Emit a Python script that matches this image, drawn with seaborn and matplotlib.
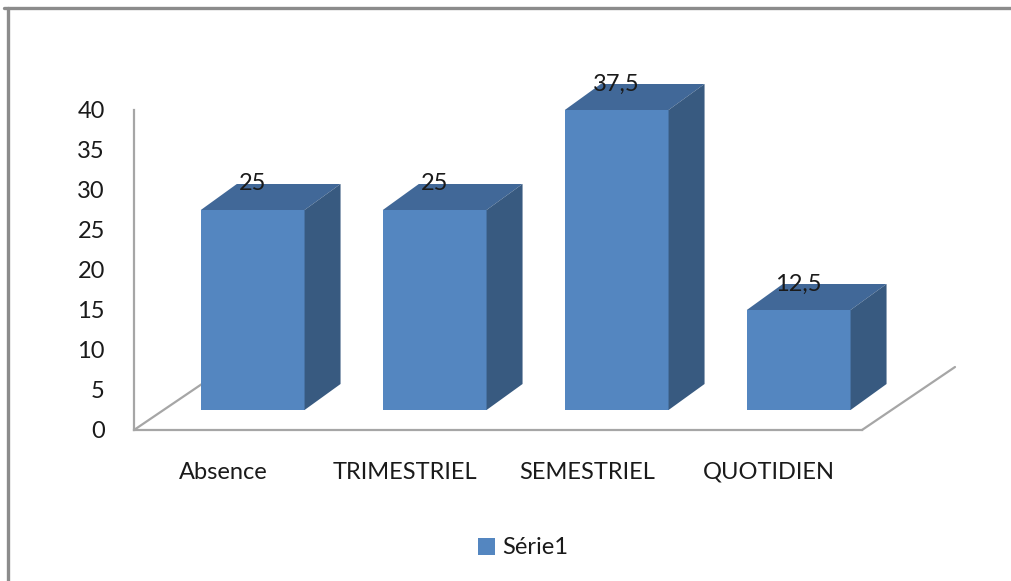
import matplotlib
matplotlib.use("Agg")
import numpy as np
import pandas as pd
import seaborn as sns
import matplotlib.pyplot as plt
from matplotlib.patches import Polygon, Patch
from matplotlib.lines import Line2D
from matplotlib.transforms import ScaledTranslation, IdentityTransform

# --- data -------------------------------------------------------------
categories = ["Absence", "TRIMESTRIEL", "SEMESTRIEL", "QUOTIDIEN"]
values = [25, 25, 37.5, 12.5]
value_labels = ["25", "25", "37,5", "12,5"]
y_ticks = [0, 5, 10, 15, 20, 25, 30, 35, 40]
series_name = "Série1"

# --- style --------------------------------------------------------------
FRONT = "#5486c0"
TOP = "#416898"
SIDE = "#385a80"
GRID = "#a6a6a6"
TEXT = "#1a1a1a"
FS = 17

sns.set_theme(style="white")
plt.rcParams["font.family"] = ["Lato", "DejaVu Sans"]

W, H, DPI = 1011, 581, 100
fig = plt.figure(figsize=(W / DPI, H / DPI), dpi=DPI)
ax = fig.add_axes([134 / W, 151 / H, 728 / W, 320 / H])

df = pd.DataFrame({"cat": categories, "val": values})
sns.barplot(data=df, x="cat", y="val", color=FRONT, saturation=1,
            width=0.57, ax=ax, zorder=3, linewidth=0)

ax.set_xlim(-0.49, 3.51)
ax.set_ylim(0, 40)
ax.set_yticks(y_ticks)
ax.set_xlabel("")
ax.set_ylabel("")
for side in ("top", "right"):
    ax.spines[side].set_visible(False)
for side in ("left", "bottom"):
    ax.spines[side].set_color(GRID)
    ax.spines[side].set_linewidth(1.6)
ax.tick_params(axis="y", length=0, pad=21, labelsize=FS, labelcolor=TEXT)
ax.tick_params(axis="x", length=0, pad=23, labelsize=FS, labelcolor=TEXT)
ax.patch.set_alpha(0)

# perspective: bars stand back from the front plane, with a visible depth
bar_shift = ScaledTranslation(29.5 / DPI, 20 / DPI, fig.dpi_scale_trans)
depth = np.array([36.0, 26.0])
floor_depth = np.array([93.0, 63.0])
ident = IdentityTransform()

bar_tr = ax.transData + bar_shift
for patch, lab in zip(ax.patches, value_labels):
    patch.set_transform(bar_tr)
    patch.set_clip_on(False)
    x0, y0 = patch.get_x(), patch.get_y()
    w, h = patch.get_width(), patch.get_height()
    bl, br, tr, tl = bar_tr.transform([[x0, y0], [x0 + w, y0],
                                        [x0 + w, y0 + h], [x0, y0 + h]])
    top = Polygon([tl, tr, tr + depth, tl + depth], closed=True,
                  facecolor=TOP, edgecolor="none", transform=ident,
                  zorder=3, clip_on=False)
    sidef = Polygon([br, tr, tr + depth, br + depth], closed=True,
                    facecolor=SIDE, edgecolor="none", transform=ident,
                    zorder=3, clip_on=False)
    ax.add_artist(top)
    ax.add_artist(sidef)
    cx = (tl[0] + tr[0]) / 2
    ax.text(cx, tl[1] + depth[1], lab, transform=ident, ha="center",
            va="center", fontsize=FS, color=TEXT, zorder=5, clip_on=False)

# floor edges receding from the front corners
x_lo, x_hi = ax.get_xlim()
for xv in (x_lo, x_hi):
    p = ax.transData.transform([xv, 0])
    q = p + floor_depth
    ax.add_artist(Line2D([p[0], q[0]], [p[1], q[1]], color=GRID, lw=1.6,
                         transform=ident, zorder=1, clip_on=False))

# legend
fig.legend([Patch(facecolor=FRONT, edgecolor="none")], [series_name],
           loc="center", bbox_to_anchor=(523 / W, 1 - 548 / H),
           frameon=False, fontsize=FS, handlelength=0.75, handleheight=0.75,
           handletextpad=0.3, labelcolor=TEXT)

# chart border
fig.add_artist(Line2D([4 / W, 1.01], [1 - 7.5 / H] * 2, transform=fig.transFigure,
                      color="#8c8c8c", lw=2.4))
fig.add_artist(Line2D([8 / W] * 2, [1 - 7.5 / H, -0.01], transform=fig.transFigure,
                      color="#8c8c8c", lw=2.4))

fig.savefig("out.png", dpi=DPI, facecolor="white")
